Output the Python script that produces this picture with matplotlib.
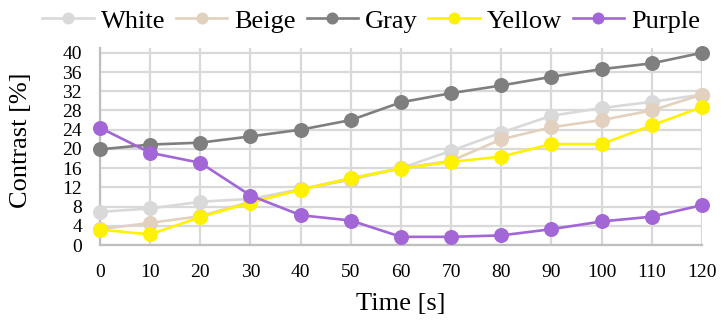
import matplotlib
matplotlib.use("Agg")
import matplotlib.pyplot as plt
from matplotlib.ticker import MultipleLocator

plt.rcParams['font.family'] = ['Liberation Serif', 'DejaVu Serif']

time_s = [0, 10, 20, 30, 40, 50, 60, 70, 80, 90, 100, 110, 120]
white = [6.9, 7.6, 9.0, 9.6, 11.6, 13.9, 16.0, 19.6, 23.4, 26.9, 28.5, 29.8, 31.3]
beige = [3.3, 4.6, 6.0, 9.0, 11.6, 13.6, 16.0, 17.5, 22.0, 24.5, 26.0, 28.0, 31.3]
gray = [19.9, 20.9, 21.3, 22.6, 24.0, 26.0, 29.7, 31.6, 33.2, 35.0, 36.6, 37.8, 40.0]
yellow = [3.2, 2.2, 5.8, 8.8, 11.5, 13.9, 15.9, 17.3, 18.4, 21.0, 21.0, 24.9, 28.7]
purple = [24.4, 19.2, 17.1, 10.3, 6.2, 5.1, 1.7, 1.7, 2.0, 3.3, 4.9, 5.9, 8.3]

series = [
    ("White", white, "#D9D9D9"),
    ("Beige", beige, "#E2D1BF"),
    ("Gray", gray, "#7F7F7F"),
    ("Yellow", yellow, "#FFF200"),
    ("Purple", purple, "#A366D6"),
]

fig = plt.figure(figsize=(7.21, 3.22), dpi=100)
ax = fig.add_axes([0.1387, 0.2391, 0.8349, 0.6119])

for name, vals, col in series:
    ax.plot(time_s, vals, color=col, lw=1.9, marker="o", markersize=10.8,
            markeredgewidth=0, label=name, zorder=3, clip_on=False)

ax.set_xlim(0, 120)
ax.set_ylim(0, 41)
ax.xaxis.set_major_locator(MultipleLocator(10))
ax.set_yticks(range(0, 41, 4))
ax.grid(True, color="#D9D9D9", lw=1.6, zorder=0)
for s in ("top", "right"):
    ax.spines[s].set_visible(False)
for s in ("left", "bottom"):
    ax.spines[s].set_color("#BFBFBF")
    ax.spines[s].set_linewidth(1.6)
ax.tick_params(length=0, labelsize=14)
ax.tick_params(axis="y", pad=13)
ax.tick_params(axis="x", pad=14)

ax.set_xlabel("Time [s]", fontsize=19)
ax.set_ylabel("Contrast [%]", fontsize=19)
ax.xaxis.set_label_coords(0.5, -0.244)
ax.yaxis.set_label_coords(-0.113, 0.53)

fig.legend(loc="upper center", bbox_to_anchor=(0.515, 1.045), ncol=5,
           frameon=False, fontsize=19, handlelength=1.95, handletextpad=0.27,
           columnspacing=0.4, markerscale=0.8)

fig.savefig("out.png", dpi=100)
